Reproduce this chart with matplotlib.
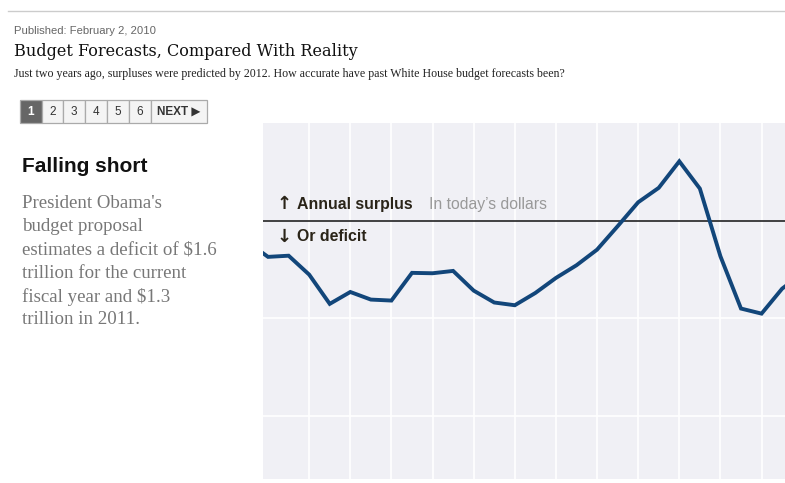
import matplotlib.pyplot as plt
from matplotlib.patches import Rectangle
from matplotlib.lines import Line2D

W, H = 785, 483

# annual surplus (+) or deficit (-), billions of today's dollars
years = list(range(1979, 2007))
balance = [-110, -186, -180, -277, -427, -366, -405, -410, -268, -270, -258,
           -359, -420, -434, -371, -294, -229, -149, -29, 94, 168, 304, 164,
           -183, -451, -477, -349, -270]

pages = ["1", "2", "3", "4", "5", "6", "NEXT \u25B6"]
body_lines = ["President Obama's", "budget proposal", "estimates a deficit of $1.6",
              "trillion for the current", "fiscal year and $1.3", "trillion in 2011."]

LINE = "#12467a"
PANEL = "#f0f0f5"
SANS = ["Liberation Sans", "DejaVu Sans"]


def fx(x):
    return x / W


def fy(y):
    return 1 - y / H


fig = plt.figure(figsize=(W / 100, H / 100), dpi=100)
fig.patch.set_facecolor("white")

# header
fig.add_artist(Line2D([fx(8), fx(785)], [fy(11), fy(11)], color="#cccccc", lw=1))
fig.text(fx(14), fy(31), "Published: February 2, 2010", fontsize=8.1, color="#666666",
         family=SANS, va="center")
fig.text(fx(14), fy(51), "Budget Forecasts, Compared With Reality", fontsize=11.6,
         color="#111111", family="DejaVu Serif", va="center")
fig.text(fx(14), fy(74), "Just two years ago, surpluses were predicted by 2012. "
         "How accurate have past White House budget forecasts been?",
         fontsize=8.6, color="#222222", family="Liberation Serif", va="center")

# page buttons
edges = [19.5, 41.5, 63, 85, 107, 129, 151, 207]
for i, lab in enumerate(pages):
    x0, x1 = edges[i], edges[i + 1]
    active = i == 0
    fig.add_artist(Rectangle((fx(x0), fy(123)), fx(x1 - x0), (123 - 100) / H,
                             facecolor="#666666" if active else "#f4f4f4",
                             edgecolor="#aaaaaa", lw=0.9))
    fig.text(fx((x0 + x1) / 2), fy(112), lab, ha="center", va="center",
             fontsize=8.5, family=SANS,
             weight="bold" if (active or i == 6) else "normal",
             color="white" if active else "#333333")

# left text
fig.text(fx(22), fy(167), "Falling short", fontsize=15, weight="bold",
         family=SANS, color="#111111", va="center")
for k, ln in enumerate(body_lines):
    fig.text(fx(22), fy(203 + k * 23.4), ln, fontsize=13.6, family="Liberation Serif",
             color="#777777", va="center")

# chart panel
ax = fig.add_axes([fx(262.5), fy(479), fx(785 - 262.5), (479 - 122.7) / H])
ax.set_facecolor(PANEL)
ax.set_xlim(1979.73, 2005.14)
ax.set_ylim(-1325, 502)
ax.set_xticks(range(1982, 2006, 2))
ax.set_yticks([-1000, -500])
ax.grid(True, color="white", lw=1.2)
ax.tick_params(length=0, labelbottom=False, labelleft=False)
for s in ax.spines.values():
    s.set_visible(False)
ax.axhline(0, color="#111111", lw=1.1, zorder=3)
ax.plot(years, balance, color=LINE, lw=2.8, solid_joinstyle="miter", zorder=4)

# surplus / deficit labels
fig.text(fx(284), fy(204), "\u2191", fontsize=13, weight="bold", family="DejaVu Sans",
         color="#2a2418", ha="center", va="center")
fig.text(fx(297), fy(204), "Annual surplus", fontsize=11.4, weight="bold",
         family=SANS, color="#2a2418", va="center")
fig.text(fx(429), fy(204), "In today\u2019s dollars", fontsize=11.3,
         family=SANS, color="#999999", va="center")
fig.text(fx(284), fy(237), "\u2193", fontsize=13, weight="bold", family="DejaVu Sans",
         color="#2a2418", ha="center", va="center")
fig.text(fx(297), fy(237), "Or deficit", fontsize=11.4, weight="bold",
         family=SANS, color="#2a2418", va="center")

fig.savefig("out.png", dpi=100)
